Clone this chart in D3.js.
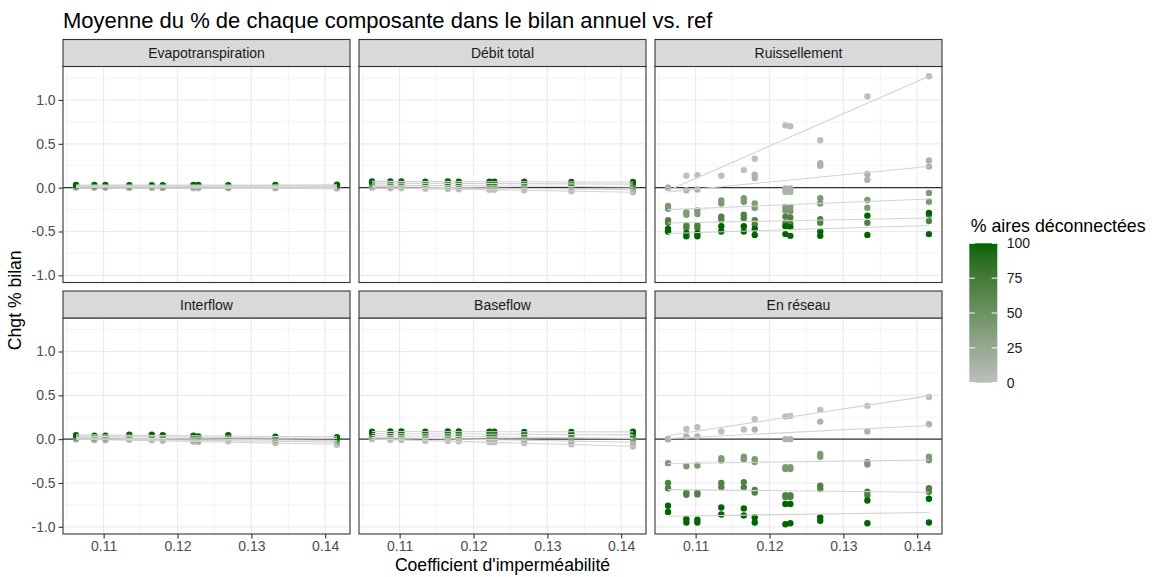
<!DOCTYPE html>
<html><head><meta charset="utf-8">
<script src="https://cdn.jsdelivr.net/npm/d3@7"></script>
<style>body{margin:0;background:#fff} text{font-family:"Liberation Sans",Arial,sans-serif}</style>
</head><body><svg id="chart" width="1155" height="577"></svg>
<script>
// ---------- DATA ----------
const impCoef = [0.10626, 0.10874, 0.11023, 0.11347, 0.11652, 0.11800, 0.12215, 0.12282, 0.12687, 0.13325, 0.14159];
const disconnectPct = [0, 12, 40, 68, 100];
const facetNames = ["Evapotranspiration", "Débit total", "Ruissellement", "Interflow", "Baseflow", "En réseau"];
const xTicks = [0.11, 0.12, 0.13, 0.14];
const yTicks = [-1.0, -0.5, 0.0, 0.5, 1.0];
const legendTicks = [0, 25, 50, 75, 100];

// each facet: one row per group (disconnectPct order), one entry per impCoef (number, pair, or null)
const evapotranspiration = [
  [0.0, -0.002, -0.002, -0.004, -0.004, -0.005, -0.006, -0.006, -0.007, -0.008, -0.010],
  [0.006, 0.004, 0.005, 0.003, 0.004, 0.003, 0.003, 0.004, 0.002, 0.003, 0.002],
  [0.014, 0.012, 0.013, 0.011, 0.012, 0.011, 0.012, 0.012, 0.011, 0.013, 0.015],
  [0.022, 0.020, 0.021, 0.019, 0.020, 0.019, 0.020, 0.021, 0.019, 0.021, 0.024],
  [0.032, 0.030, 0.030, 0.028, 0.029, 0.029, 0.030, 0.030, 0.029, 0.031, 0.034]
];
const debitTotal = [
  [0.000, -0.006, -0.007, -0.012, -0.015, -0.018, -0.024, -0.025, -0.030, -0.040, -0.052],
  [0.012, 0.008, 0.008, 0.004, 0.003, 0.001, -0.004, -0.004, -0.008, -0.015, -0.024],
  [0.030, 0.027, 0.027, 0.024, 0.024, 0.022, 0.020, 0.020, 0.017, 0.013, 0.008],
  [0.052, 0.050, 0.050, 0.048, 0.049, 0.047, 0.046, 0.046, 0.045, 0.043, 0.040],
  [0.072, 0.070, 0.071, 0.069, 0.070, 0.069, 0.068, 0.068, 0.067, 0.066, 0.064]
];
const ruissellement = [
  [0.0, 0.137, 0.143, 0.137, 0.20, 0.33, 0.71, 0.70, 0.54, 1.04, 1.27],
  [0.0, -0.03, -0.02, null, null, [0.148, 0.11], [-0.01, -0.05], [-0.01, -0.05], [0.28, 0.25], [0.156, 0.09], [0.31, 0.24]],
  [[-0.21, -0.24], [-0.28, -0.31], [-0.26, -0.30], [-0.145, -0.18], [-0.12, -0.16], [-0.18, -0.23], [-0.22, -0.26], [-0.22, -0.27], [-0.12, -0.18], [-0.14, -0.23], [-0.06, -0.16]],
  [[-0.37, -0.40], [-0.43, -0.46], [-0.43, -0.46], [-0.33, -0.365], [-0.31, -0.35], [-0.37, -0.42], [-0.33, -0.40], [-0.34, -0.41], [-0.36, -0.40], -0.40, [-0.31, -0.38]],
  [[-0.47, -0.50], [-0.52, -0.555], [-0.52, -0.555], [-0.44, -0.50], [-0.44, -0.50], [-0.47, -0.54], [-0.44, -0.53], [-0.45, -0.55], [-0.50, -0.55], [-0.32, -0.54], [-0.29, -0.53]]
];
const interflow = [
  [-0.004, -0.012, -0.012, -0.008, -0.012, -0.018, -0.030, -0.033, -0.025, -0.045, -0.065],
  [0.004, -0.002, -0.002, 0.003, 0.001, -0.004, -0.016, -0.019, -0.010, -0.028, -0.036],
  [0.015, 0.010, 0.010, 0.016, 0.015, 0.010, 0.000, -0.004, 0.006, -0.012, -0.018],
  [0.030, 0.026, 0.026, 0.034, 0.033, 0.028, 0.020, 0.016, 0.026, 0.010, 0.005],
  [0.046, 0.040, 0.040, 0.050, 0.050, 0.046, 0.038, 0.031, 0.046, 0.027, 0.022]
];
const baseflow = [
  [0.000, -0.008, -0.010, -0.018, -0.020, -0.025, -0.034, -0.035, -0.044, -0.060, -0.085],
  [0.018, 0.016, 0.014, 0.008, 0.008, 0.004, -0.004, -0.005, -0.012, -0.024, -0.036],
  [0.040, 0.040, 0.038, 0.034, 0.035, 0.032, 0.026, 0.026, 0.022, 0.014, 0.010],
  [0.062, 0.064, 0.062, 0.060, 0.062, 0.060, 0.056, 0.056, 0.054, 0.050, 0.050],
  [0.085, 0.088, 0.087, 0.086, 0.088, 0.087, 0.084, 0.084, 0.083, 0.082, 0.084]
];
const enReseau = [
  [0.0, 0.117, 0.137, 0.087, 0.11, 0.228, 0.258, 0.265, 0.334, 0.38, 0.48],
  [0.0, 0.03, 0.03, null, null, 0.11, 0.0, 0.0, 0.20, 0.087, 0.17],
  [-0.274, -0.31, -0.30, [-0.217, -0.244], [-0.20, -0.23], [-0.23, -0.26], [-0.32, -0.34], [-0.32, -0.34], [-0.17, -0.20], [-0.26, -0.29], [-0.20, -0.24]],
  [[-0.50, -0.56], [-0.61, -0.635], [-0.61, -0.63], [-0.50, -0.55], [-0.49, -0.55], [-0.58, -0.61], [-0.64, -0.66], [-0.64, -0.66], [-0.53, -0.57], [-0.60, -0.64], [-0.56, -0.60]],
  [[-0.76, -0.83], [-0.91, -0.95], [-0.92, -0.95], [-0.78, -0.86], [-0.79, -0.87], [-0.89, -0.95], [-0.74, -0.97], [-0.74, -0.96], [-0.89, -0.93], [-0.70, -0.96], [-0.68, -0.95]]
];
const facetValues = [evapotranspiration, debitTotal, ruissellement, interflow, baseflow, enReseau];

// ---------- LAYOUT ----------
const svg = d3.select("#chart");
const panelLeft = [63, 359, 655], panelTop = [66.5, 318], pw = 287, ph = 216, stripH = 27;
const color = d3.scaleLinear().domain([0, 100]).range(["#BEBEBE", "#006400"]).interpolate(d3.interpolateLab);

// build point records
const facets = facetNames.map((name, fi) => {
  const groups = facetValues[fi].map((row, gi) => {
    const pts = [];
    row.forEach((v, i) => {
      if (v === null) return;
      (Array.isArray(v) ? v : [v]).forEach(y => pts.push({x: impCoef[i], y, c: disconnectPct[gi]}));
    });
    return {c: disconnectPct[gi], pts};
  });
  return {name, groups};
});

const allY = facets.flatMap(f => f.groups.flatMap(g => g.pts.map(p => p.y)));
function expand([a, b]) { const d = (b - a) * 0.05; return [a - d, b + d]; }
const x = d3.scaleLinear().domain(expand(d3.extent(impCoef))).range([0, pw]);
const y = d3.scaleLinear().domain(expand(d3.extent(allY))).range([ph, 0]);

const xMinor = [0.105, 0.115, 0.125, 0.135].filter(v => v >= x.domain()[0] && v <= x.domain()[1]);
const yMinor = [-0.75, -0.25, 0.25, 0.75, 1.25].filter(v => v >= y.domain()[0] && v <= y.domain()[1]);

function lm(pts) {
  const mx = d3.mean(pts, p => p.x), my = d3.mean(pts, p => p.y);
  const sxy = d3.sum(pts, p => (p.x - mx) * (p.y - my)), sxx = d3.sum(pts, p => (p.x - mx) ** 2);
  const b = sxy / sxx, a = my - b * mx;
  const [x0, x1] = d3.extent(pts, p => p.x);
  return [{x: x0, y: a + b * x0}, {x: x1, y: a + b * x1}];
}

facets.forEach((f, fi) => {
  const col = fi % 3, row = Math.floor(fi / 3);
  const g = svg.append("g").attr("transform", `translate(${panelLeft[col]},${panelTop[row]})`);
  // strip
  svg.append("rect").attr("x", panelLeft[col]).attr("y", panelTop[row] - stripH).attr("width", pw).attr("height", stripH)
    .attr("fill", "#D9D9D9").attr("stroke", "#333333").attr("stroke-width", 1.1);
  svg.append("text").attr("x", panelLeft[col] + pw / 2).attr("y", panelTop[row] - stripH / 2 + 5)
    .attr("text-anchor", "middle").attr("font-size", 14).attr("fill", "#1A1A1A").text(f.name);
  // grid
  g.selectAll(".gxm").data(xMinor).join("line").attr("x1", d => x(d)).attr("x2", d => x(d)).attr("y1", 0).attr("y2", ph)
    .attr("stroke", "#EBEBEB").attr("stroke-width", 0.6);
  g.selectAll(".gym").data(yMinor).join("line").attr("y1", d => y(d)).attr("y2", d => y(d)).attr("x1", 0).attr("x2", pw)
    .attr("stroke", "#EBEBEB").attr("stroke-width", 0.6);
  g.selectAll(".gx").data(xTicks).join("line").attr("x1", d => x(d)).attr("x2", d => x(d)).attr("y1", 0).attr("y2", ph)
    .attr("stroke", "#EBEBEB").attr("stroke-width", 1.2);
  g.selectAll(".gy").data(yTicks).join("line").attr("y1", d => y(d)).attr("y2", d => y(d)).attr("x1", 0).attr("x2", pw)
    .attr("stroke", "#EBEBEB").attr("stroke-width", 1.2);
  // zero line
  g.append("line").attr("x1", 0).attr("x2", pw).attr("y1", y(0)).attr("y2", y(0)).attr("stroke", "#333333").attr("stroke-width", 1.2);
  // points
  f.groups.forEach(gr => {
    g.selectAll(null).data(gr.pts).join("circle").attr("cx", d => x(d.x)).attr("cy", d => y(d.y)).attr("r", 3.2)
      .attr("fill", d => color(d.c));
  });
  // regression lines
  f.groups.forEach(gr => {
    g.append("path").datum(lm(gr.pts)).attr("d", d3.line().x(d => x(d.x)).y(d => y(d.y)))
      .attr("fill", "none").attr("stroke", "#D3D3D3").attr("stroke-width", 1.1);
  });
  // border
  g.append("rect").attr("width", pw).attr("height", ph).attr("fill", "none").attr("stroke", "#333333").attr("stroke-width", 1.1);
  // axes
  if (col === 0) {
    const ya = g.append("g").call(d3.axisLeft(y).tickValues(yTicks).tickFormat(d3.format(".1f")).tickSize(4.4).tickPadding(3));
    ya.select(".domain").remove();
    ya.selectAll("line").attr("stroke", "#333333").attr("stroke-width", 1.1);
    ya.selectAll("text").attr("font-size", 14).attr("fill", "#4D4D4D").attr("font-family", "Liberation Sans, Arial, sans-serif")
      .text(d => d3.format(".1f")(d).replace("−", "-"));
  }
  if (row === 1) {
    const xa = g.append("g").attr("transform", `translate(0,${ph})`).call(d3.axisBottom(x).tickValues(xTicks).tickFormat(d3.format(".2f")).tickSize(4.4).tickPadding(3));
    xa.select(".domain").remove();
    xa.selectAll("line").attr("stroke", "#333333").attr("stroke-width", 1.1);
    xa.selectAll("text").attr("font-size", 14).attr("fill", "#4D4D4D").attr("font-family", "Liberation Sans, Arial, sans-serif");
  }
});

// titles
svg.append("text").attr("x", 63).attr("y", 28).attr("font-size", 22).attr("fill", "#000").text("Moyenne du % de chaque composante dans le bilan annuel vs. ref");
svg.append("text").attr("x", (panelLeft[0] + panelLeft[2] + pw) / 2).attr("y", 571).attr("text-anchor", "middle")
  .attr("font-size", 17.6).attr("fill", "#000").text("Coefficient d'imperméabilité");
svg.append("text").attr("transform", `translate(21,${(panelTop[0] + panelTop[1] + ph) / 2}) rotate(-90)`).attr("text-anchor", "middle")
  .attr("font-size", 17.6).attr("fill", "#000").text("Chgt % bilan");

// legend
const lgX = 969.3, lgY = 243.3, lgW = 28, lgH = 139.4;
const defs = svg.append("defs");
const grad = defs.append("linearGradient").attr("id", "lg").attr("x1", 0).attr("y1", 1).attr("x2", 0).attr("y2", 0);
d3.range(0, 101, 5).forEach(v => grad.append("stop").attr("offset", v / 100).attr("stop-color", color(v)));
svg.append("text").attr("x", 970.7).attr("y", 231.5).attr("font-size", 17.8).attr("fill", "#000").text("% aires déconnectées");
svg.append("rect").attr("x", lgX).attr("y", lgY).attr("width", lgW).attr("height", lgH).attr("fill", "url(#lg)");
const ly = d3.scaleLinear().domain([0, 100]).range([lgY + lgH, lgY]);
legendTicks.forEach(t => {
  svg.append("line").attr("x1", lgX).attr("x2", lgX + 5.6).attr("y1", ly(t)).attr("y2", ly(t)).attr("stroke", "#fff").attr("stroke-width", 1);
  svg.append("line").attr("x1", lgX + lgW - 5.6).attr("x2", lgX + lgW).attr("y1", ly(t)).attr("y2", ly(t)).attr("stroke", "#fff").attr("stroke-width", 1);
  svg.append("text").attr("x", 1006.7).attr("y", ly(t) + 5).attr("font-size", 14).attr("fill", "#1A1A1A").text(t);
});
</script></body></html>
